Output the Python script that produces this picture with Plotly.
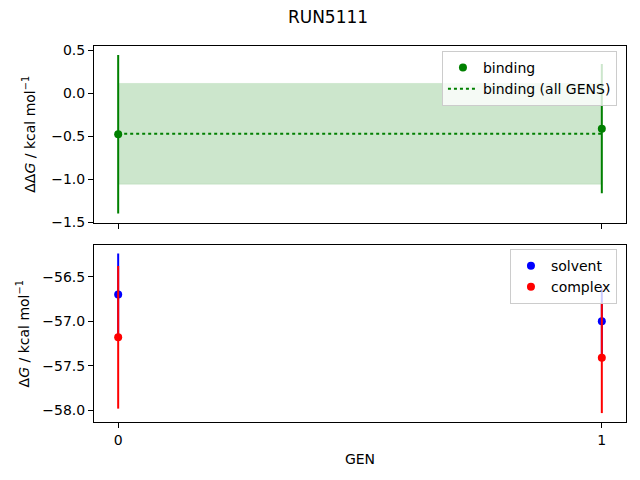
import plotly.graph_objects as go
from plotly.subplots import make_subplots

gens = [0, 1]

binding = [-0.475, -0.41]
binding_err = [0.92, 0.75]
binding_all = -0.47
binding_all_err = 0.585

solvent = [-56.70, -57.00]
solvent_err = [0.46, 0.37]
complex_ = [-57.18, -57.41]
complex_err = [0.80, 0.62]

font = "DejaVu Sans"

fig = make_subplots(rows=2, cols=1, shared_xaxes=True, vertical_spacing=0.061,
                    row_heights=[0.5, 0.5])

# band for the all-GENS estimate
fig.add_trace(go.Scatter(x=gens, y=[binding_all + binding_all_err] * len(gens),
                         mode="lines", line=dict(width=0.5, color="rgba(0,128,0,0.2)"),
                         showlegend=False, hoverinfo="skip"), row=1, col=1)
fig.add_trace(go.Scatter(x=gens, y=[binding_all - binding_all_err] * len(gens),
                         mode="lines", line=dict(width=0.5, color="rgba(0,128,0,0.2)"),
                         fill="tonexty", fillcolor="rgba(0,128,0,0.2)",
                         showlegend=False, hoverinfo="skip"), row=1, col=1)

fig.add_trace(go.Scatter(x=gens, y=binding, mode="markers", name="binding",
                         marker=dict(color="green", size=8),
                         error_y=dict(type="data", array=binding_err, color="green",
                                      thickness=2, width=0),
                         legend="legend"), row=1, col=1)
fig.add_trace(go.Scatter(x=gens, y=[binding_all] * len(gens), mode="lines",
                         name="binding (all GENS)",
                         line=dict(color="green", dash="dot", width=2),
                         legend="legend"), row=1, col=1)

fig.add_trace(go.Scatter(x=gens, y=solvent, mode="markers", name="solvent",
                         marker=dict(color="blue", size=8),
                         error_y=dict(type="data", array=solvent_err, color="blue",
                                      thickness=2, width=0),
                         legend="legend2"), row=2, col=1)
fig.add_trace(go.Scatter(x=gens, y=complex_, mode="markers", name="complex",
                         marker=dict(color="red", size=8),
                         error_y=dict(type="data", array=complex_err, color="red",
                                      thickness=2, width=0),
                         legend="legend2"), row=2, col=1)

axis_style = dict(showline=True, linecolor="black", linewidth=1, mirror=True,
                  ticks="outside", ticklen=5, tickcolor="black", showgrid=False,
                  zeroline=False, automargin=False,
                  tickfont=dict(size=14, color="black"))

fig.update_xaxes(range=[-0.05, 1.05], tickvals=gens, **axis_style)
fig.update_xaxes(title=dict(text="GEN", font=dict(size=14, color="black"), standoff=7),
                 row=2, col=1)
fig.update_yaxes(range=[-1.5, 0.55], dtick=0.5, tickformat=".1f",
                 title=dict(text="ΔΔ<i>G</i> / kcal mol<sup>−1</sup>",
                            font=dict(size=14, color="black"), standoff=12),
                 row=1, col=1, **axis_style)
fig.update_yaxes(range=[-58.13, -56.15], dtick=0.5, tickformat=".1f",
                 title=dict(text="Δ<i>G</i> / kcal mol<sup>−1</sup>",
                            font=dict(size=14, color="black"), standoff=9),
                 row=2, col=1, **axis_style)

legend_style = dict(xanchor="right", yanchor="top", bgcolor="rgba(255,255,255,0.8)",
                    bordercolor="#cccccc", borderwidth=1, traceorder="normal",
                    font=dict(size=14, color="black", family=font))

fig.update_layout(
    width=640, height=480,
    title=dict(text="RUN5111", x=0.5, xanchor="center", y=0.981, yanchor="middle",
               font=dict(size=17, color="black")),
    font=dict(family=font, color="black"),
    plot_bgcolor="white", paper_bgcolor="white",
    margin=dict(l=86, r=22, t=38, b=66),
    legend=dict(x=0.983, y=0.987, **legend_style),
    legend2=dict(x=0.983, y=0.46, **legend_style),
)

fig.write_html("out.html")
